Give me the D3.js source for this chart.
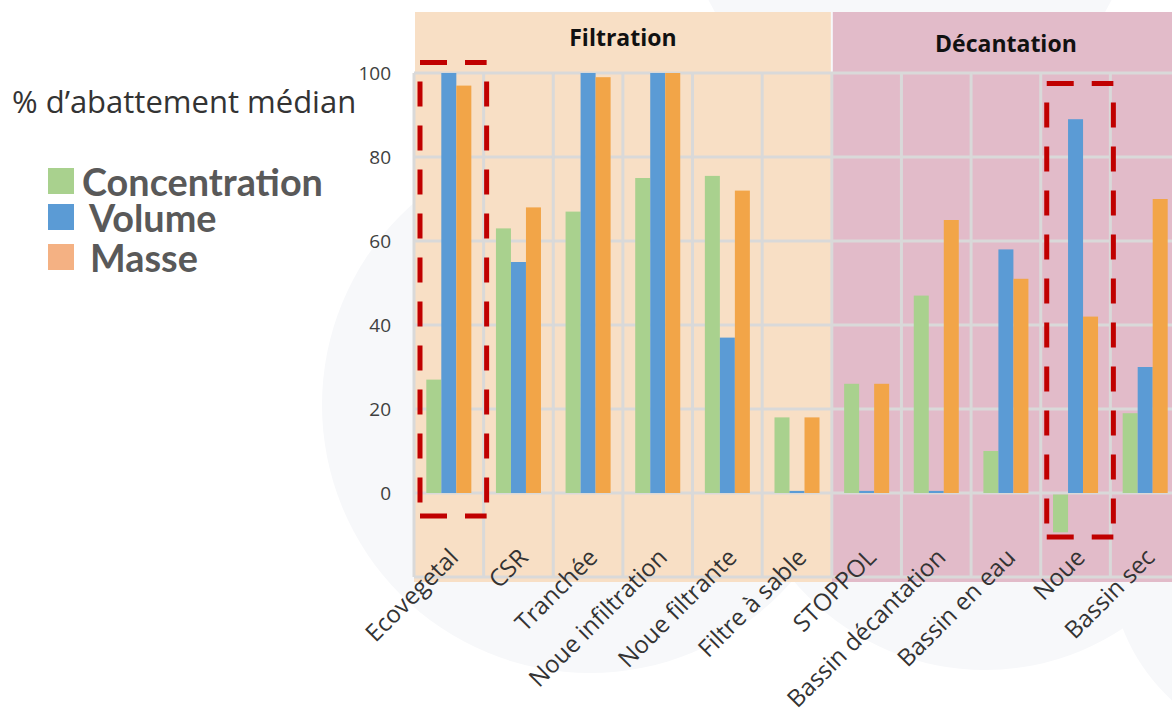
<!DOCTYPE html>
<html>
<head>
<meta charset="utf-8">
<script src="https://cdn.jsdelivr.net/npm/d3@7"></script>
<style>
  html, body { margin: 0; padding: 0; background: #ffffff; }
  svg { display: block; }
</style>
</head>
<body>
<svg id="chart" width="1172" height="714"></svg>
<script>
// Ouvrages et familles de traitement
const categories = ["Ecovegetal", "CSR", "Tranchée", "Noue infiltration", "Noue filtrante",
                    "Filtre à sable", "STOPPOL", "Bassin décantation", "Bassin en eau", "Noue", "Bassin sec"];
const groupNames = ["Filtration", "Décantation"];
const groupOfCategory = ["Filtration", "Filtration", "Filtration", "Filtration", "Filtration", "Filtration",
                         "Décantation", "Décantation", "Décantation", "Décantation", "Décantation"];

// % d'abattement médian par série
const seriesNames = ["Concentration", "Volume", "Masse"];
const concentration = [27, 63, 67, 75, 75.5, 18, 26, 47, 10, -9, 19];
const volume        = [100, 55, 100, 100, 37, 0.5, 0.5, 0.5, 58, 89, 30];
const masse         = [97, 68, 99, 100, 72, 18, 26, 65, 51, 42, 70];

const yTicks = [0, 20, 40, 60, 80, 100];
const yGrid = [-20, 0, 20, 40, 60, 80, 100];

// Ouvrages encadrés (pointillés rouges) et leur étendue verticale en %
const highlighted = ["Ecovegetal", "Noue"];
const highlightTop = [102.5, 97.5];
const highlightBottom = [-5.5, -10.5];

const seriesValues = [concentration, volume, masse];
const barColors = ["#A9D18E", "#5B9BD5", "#F2A548"];
const legendColors = ["#A9D18E", "#5B9BD5", "#F4B183"];
const groupFill = { "Filtration": "#F8DFC5", "Décantation": "#E2BBC9" };

const svg = d3.select("#chart");

// Décor de fond : grands disques très pâles
const bg = svg.append("g");
[[590, 405, 268], [985, 420, 250], [910, -100, 225], [1300, 560, 190]].forEach(([cx, cy, r]) => {
  bg.append("circle").attr("cx", cx).attr("cy", cy).attr("r", r).attr("fill", "#F7F8FA");
});

const x = d3.scaleBand().domain(categories).range([414, 1180]).padding(0);
const xSeries = d3.scaleBand().domain(seriesNames).range([0, x.bandwidth()]).paddingInner(0).paddingOuter(0.82);
const y = d3.scaleLinear().domain([-20, 100]).range([577, 73]);

const headerTop = 12;

// Bandes de fond par famille
groupNames.forEach(gName => {
  const cats = categories.filter((c, i) => groupOfCategory[i] === gName);
  const x0 = x(cats[0]);
  const x1 = x(cats[cats.length - 1]) + x.bandwidth();
  svg.append("rect")
    .attr("x", x0 + 1).attr("y", headerTop)
    .attr("width", x1 - x0 - 2).attr("height", y(100) - headerTop)
    .attr("fill", groupFill[gName]);
  svg.append("rect")
    .attr("x", x0).attr("y", y(100))
    .attr("width", x1 - x0).attr("height", y(-20) - y(100) + 5)
    .attr("fill", groupFill[gName]);
  svg.append("text")
    .attr("x", (x0 + x1) / 2).attr("y", gName === "Filtration" ? 46 : 52)
    .attr("text-anchor", "middle")
    .attr("font-family", "'Open Sans', sans-serif")
    .attr("font-weight", 700).attr("font-size", 23)
    .attr("fill", "#111111")
    .text(gName);
});

// Quadrillage
const grid = svg.append("g").attr("stroke", "#D9D9D9").attr("stroke-width", 3);
yGrid.forEach(v => {
  grid.append("line").attr("x1", x.range()[0]).attr("x2", x.range()[1])
    .attr("y1", y(v)).attr("y2", y(v));
});
categories.concat([null]).forEach(c => {
  const xv = c === null ? x.range()[1] : x(c);
  grid.append("line").attr("x1", xv).attr("x2", xv)
    .attr("y1", y(100)).attr("y2", y(-20));
});

// Barres
const bars = svg.append("g");
categories.forEach((c, i) => {
  seriesNames.forEach((s, k) => {
    const v = seriesValues[k][i];
    bars.append("rect")
      .attr("x", x(c) + xSeries(s))
      .attr("width", xSeries.bandwidth())
      .attr("y", y(Math.max(0, v)) + (v >= 0 ? 0 : 1.5))
      .attr("height", Math.abs(y(v) - y(0)))
      .attr("fill", barColors[k]);
  });
});

// Encadrés en pointillés
const boxes = svg.append("g").attr("stroke", "#C00000").attr("stroke-width", 5).attr("fill", "none");
highlighted.forEach((c, i) => {
  const xl = x(c) + 6;
  const xr = x(c) + x.bandwidth() + 3;
  const yt = y(highlightTop[i]);
  const yb = y(highlightBottom[i]);
  [[xl, yt, xr, yt], [xl, yb, xr, yb]].forEach(([a, b, cc, d]) => {
    boxes.append("line").attr("x1", a).attr("y1", b).attr("x2", cc).attr("y2", d)
      .attr("stroke-dasharray", "27,18");
  });
  [[xl, yt, xl, yb], [xr, yt, xr, yb]].forEach(([a, b, cc, d]) => {
    boxes.append("line").attr("x1", a).attr("y1", b).attr("x2", cc).attr("y2", d)
      .attr("stroke-dasharray", "25,19").attr("stroke-dashoffset", 25);
  });
});

// Axe vertical
const yAxis = svg.append("g")
  .attr("transform", `translate(${x.range()[0]},0)`)
  .call(d3.axisLeft(y).tickValues(yTicks).tickSize(0).tickPadding(23));
yAxis.select(".domain").remove();
yAxis.selectAll("text")
  .attr("font-family", "'Open Sans', sans-serif")
  .attr("font-size", 19)
  .attr("fill", "#404040");

// Axe des ouvrages, étiquettes inclinées
const xAxis = svg.append("g")
  .attr("transform", `translate(0,553)`)
  .call(d3.axisBottom(x).tickSize(0));
xAxis.select(".domain").remove();
xAxis.selectAll("text")
  .attr("x", 0).attr("y", 0).attr("dy", "0.35em")
  .attr("text-anchor", "end")
  .attr("transform", "translate(5,0) rotate(-45)")
  .attr("font-family", "'Open Sans', sans-serif")
  .attr("font-size", 24)
  .attr("fill", "#333333");

// Titre de l'axe
svg.append("text")
  .attr("x", 12).attr("y", 113)
  .attr("font-family", "'Open Sans', sans-serif")
  .attr("font-size", 31)
  .attr("fill", "#333333")
  .text("% d\u2019abattement médian");

// Légende
const legend = svg.append("g");
const legendRows = [196, 232, 272];
const legendTextX = [82, 89, 90];
seriesNames.forEach((s, k) => {
  legend.append("rect")
    .attr("x", 48).attr("y", legendRows[k] - 28)
    .attr("width", 26).attr("height", 26)
    .attr("fill", legendColors[k]);
  legend.append("text")
    .attr("x", legendTextX[k]).attr("y", legendRows[k])
    .attr("font-family", "Lato, 'Open Sans', sans-serif")
    .attr("font-weight", 700).attr("font-size", 37.8)
    .attr("fill", "#595959")
    .text(s);
});
</script>
</body>
</html>
